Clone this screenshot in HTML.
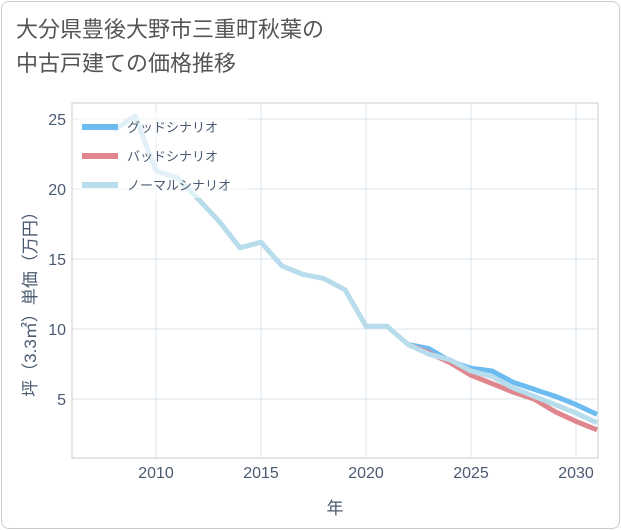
<!DOCTYPE html>
<html><head><meta charset="utf-8"><style>
body{margin:0;background:#fff;font-family:"Liberation Sans","Noto Sans CJK JP",sans-serif;}
#card{position:absolute;left:1px;top:1px;width:617px;height:526px;border:1px solid #ccc;border-radius:8px;background:#fff;}
#title{position:absolute;left:16px;top:13px;font-size:22px;line-height:34px;color:#555;}
svg{position:absolute;left:0;top:0;}
</style></head><body>
<div id="card"></div>
<div id="title">大分県豊後大野市三重町秋葉の<br>中古戸建ての価格推移</div>
<svg id="chart" width="621" height="530"></svg>
<script>
const years=[2008,2009,2010,2011,2012,2013,2014,2015,2016,2017,2018,2019,2020,2021,2022,2023,2024,2025,2026,2027,2028,2029,2030,2031];
const normal=[24.2,25.2,21.3,20.8,19.3,17.7,15.8,16.2,14.5,13.9,13.6,12.8,10.2,10.2,8.9,8.2,7.8,7.0,6.6,5.8,5.2,4.6,4.0,3.3];
const futYears=[2022,2023,2024,2025,2026,2027,2028,2029,2030,2031];
const good=[8.9,8.6,7.7,7.2,7.0,6.2,5.7,5.2,4.6,3.9];
const bad=[8.9,8.3,7.6,6.7,6.1,5.5,5.0,4.1,3.4,2.8];
const xTicks=[2010,2015,2020,2025,2030];
const yTicks=[5,10,15,20,25];
const L=72,R=598,T=103,B=458;
const x=v=>L+(v-2006)*21;
const y=v=>469-v*14;
const ns="http://www.w3.org/2000/svg";
const svg=document.getElementById('chart');
function mk(t,a){const e=document.createElementNS(ns,t);for(const k in a)e.setAttribute(k,a[k]);svg.appendChild(e);return e;}
const bg=mk('rect',{x:L,y:T,width:R-L,height:B-T,fill:'#fff',stroke:'#ccc'});


xTicks.forEach(t=>{
 const g=mk('line',{x1:x(t),x2:x(t),y1:T,y2:B,stroke:'#d8e4ec'});
 
 
 const tx=mk('text',{x:x(t),y:478,'text-anchor':'middle','font-size':16,fill:'#4a5a70'});tx.textContent=t;
 
 
});
yTicks.forEach(t=>{
 const g=mk('line',{x1:L,x2:R,y1:y(t),y2:y(t),stroke:'#d8e4ec'});
 
 
 const tx=mk('text',{x:66,y:y(t)+6,'text-anchor':'end','font-size':16,fill:'#4a5a70'});tx.textContent=t;
 
 
});
function line(xs,ys,c,name){
 const p=mk('polyline',{points:xs.map((v,i)=>x(v)+','+y(ys[i])).join(' '),fill:'none',stroke:c,'stroke-width':5,'stroke-linejoin':'round'});
 
 
}
line(futYears,good,'#6cbcf2','good-scenario-line');
line(futYears,bad,'#e0868e','bad-scenario-line');
line(years,normal,'#b7dceb','normal-scenario-line');
const lb=mk('rect',{x:78,y:112,width:170,height:86,fill:'rgba(255,255,255,0.6)'});


const leg=[['グッドシナリオ','#6cbcf2'],['バッドシナリオ','#e0868e'],['ノーマルシナリオ','#b7dceb']];
leg.forEach((d,i)=>{
 const yy=127+i*29;
 const l=mk('line',{x1:82,x2:118,y1:yy,y2:yy,stroke:d[1],'stroke-width':6});
 
 
 const t=mk('text',{x:127,y:yy+5,'font-size':13,fill:'#4a5a70'});t.textContent=d[0];
 
 
});
const xt=mk('text',{x:335,y:514,'text-anchor':'middle','font-size':17,fill:'#4a5a70'});xt.textContent='年';


const yt=mk('text',{x:0,y:0,'text-anchor':'middle','font-size':17,fill:'#4a5a70',transform:'translate(36,300) rotate(-90)'});yt.textContent='坪（3.3㎡）単価（万円）';


</script>
</body></html>
